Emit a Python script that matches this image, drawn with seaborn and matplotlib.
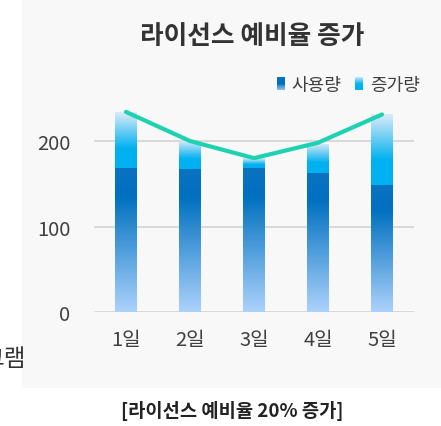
import numpy as np
import pandas as pd
import matplotlib
matplotlib.use("Agg")
import matplotlib.pyplot as plt
import seaborn as sns
from matplotlib.colors import LinearSegmentedColormap
from matplotlib.patches import Rectangle
from matplotlib.legend_handler import HandlerBase

# ---- data ----
days = ["1일", "2일", "3일", "4일", "5일"]
usage = [169, 167, 169, 163, 149]
total = [234, 200, 180, 197, 231]
line_vals = [234, 200, 180, 198, 231]
yticks = [0, 100, 200]
title = "라이선스 예비율 증가"
caption = "[라이선스 예비율 20% 증가]"
series_names = ["사용량", "증가량"]

sns.set_style("white")
plt.rcParams["font.family"] = ["Noto Sans CJK KR", "DejaVu Sans"]

W, H = 441, 427
fig = plt.figure(figsize=(W / 100, H / 100), dpi=100)
fig.patch.set_facecolor("white")
fig.patches.append(Rectangle((22 / W, 1 - 389 / H), 1 - 22 / W, 389 / H,
                             transform=fig.transFigure, facecolor="#f8f8f8",
                             edgecolor="none", zorder=-10))

ax = fig.add_axes([94 / W, 1 - 313.3 / H, 320 / W, 214.1 / H])
ax.set_facecolor("none")

df = pd.DataFrame({"day": days, "usage": usage, "total": total, "line": line_vals})

cmap_usage = LinearSegmentedColormap.from_list(
    "u", [(0, "#acd2fb"), (0.8, "#0070c0"), (1.0, "#0a73c0")])
cmap_inc = LinearSegmentedColormap.from_list(
    "i", [(0, "#00b0f0"), (0.35, "#00b0f0"), (1.0, "#dcecf8")])

sns.barplot(data=df, x="day", y="total", ax=ax, width=0.33, color="#00b0f0",
            order=days, zorder=2)
n_tot = len(ax.patches)
sns.barplot(data=df, x="day", y="usage", ax=ax, width=0.33, color="#0070c0",
            order=days, zorder=3)

grad = np.linspace(0, 1, 256).reshape(-1, 1)
patches = list(ax.patches)
for i, p in enumerate(patches):
    x0, w = p.get_x(), p.get_width()
    y0, h = p.get_y(), p.get_height()
    p.set_edgecolor("none")
    if i < n_tot:
        lo = usage[i]
        hi = y0 + h
        cm = cmap_inc
        z = 2
    else:
        lo, hi = y0, y0 + h
        cm = cmap_usage
        z = 3
    im = ax.imshow(grad, cmap=cm, extent=[x0, x0 + w, lo, hi], origin="lower",
                   aspect="auto", zorder=z + 0.1, interpolation="bilinear")
    im.set_clip_path(p)
    p.set_facecolor("none")

sns.lineplot(data=df, x="day", y="line", ax=ax, color="#1dd1b1", linewidth=3.0,
             zorder=5, sort=False, solid_capstyle="round")

ax.set_xlim(-0.5, 4.5)
ax.set_ylim(0, 250)
ax.set_yticks(yticks)
ax.set_yticklabels([str(v) for v in yticks])
ax.yaxis.grid(True, color="#d9d9d9", linewidth=1.4, zorder=0)
ax.set_axisbelow(True)
for s in ax.spines.values():
    s.set_visible(False)
ax.tick_params(axis="y", length=0, pad=17, labelsize=14.5, labelcolor="#404040")
ax.tick_params(axis="x", length=0, pad=12, labelsize=14.5, labelcolor="#404040")
for lab in ax.get_xticklabels() + ax.get_yticklabels():
    lab.set_fontweight("light")
ax.set_xlabel("")
ax.set_ylabel("")


class GradHandler(HandlerBase):
    def __init__(self, cmap):
        super().__init__()
        self.cmap = cmap

    def create_artists(self, legend, orig_handle, xdescent, ydescent, width,
                       height, fontsize, trans):
        n = 14
        arts = []
        for k in range(n):
            frac = (k + 0.5) / n
            c = self.cmap(frac)
            r = Rectangle((-xdescent, -ydescent + height * k / n), width,
                          height / n + 0.05, facecolor=c, edgecolor="none",
                          transform=trans)
            arts.append(r)
        return arts


h1 = Rectangle((0, 0), 1, 1)
h2 = Rectangle((0, 0), 1, 1)
cm_leg_u = LinearSegmentedColormap.from_list("lu", [(0, "#8fc0f2"), (0.5, "#0070c0"), (1, "#0070c0")])
cm_leg_i = LinearSegmentedColormap.from_list("li", [(0, "#00b0f0"), (0.5, "#00b0f0"), (1, "#c8e8fa")])
leg = ax.legend([h1, h2], series_names,
                handler_map={h1: GradHandler(cm_leg_u), h2: GradHandler(cm_leg_i)},
                loc="center left", bbox_to_anchor=(277 / W, 1 - 86 / H),
                bbox_transform=fig.transFigure, ncol=2, frameon=False,
                fontsize=13, handlelength=0.42, handleheight=0.7,
                handletextpad=0.4, columnspacing=0.75, borderpad=0,
                borderaxespad=0)
for t in leg.get_texts():
    t.set_color("#404040")
    t.set_fontweight("light")

fig.text(252 / W, 1 - 37 / H, title, ha="center", va="center", fontsize=18.5,
         fontweight="bold", color="#333333")
fig.text(232 / W, 1 - 411 / H, caption, ha="center", va="center", fontsize=13.5,
         fontweight="bold", color="#222222")
fig.text(26 / W, 1 - 360 / H, "그램", ha="right", va="center", fontsize=17,
         color="#333333")

fig.savefig("out.png", dpi=100)
